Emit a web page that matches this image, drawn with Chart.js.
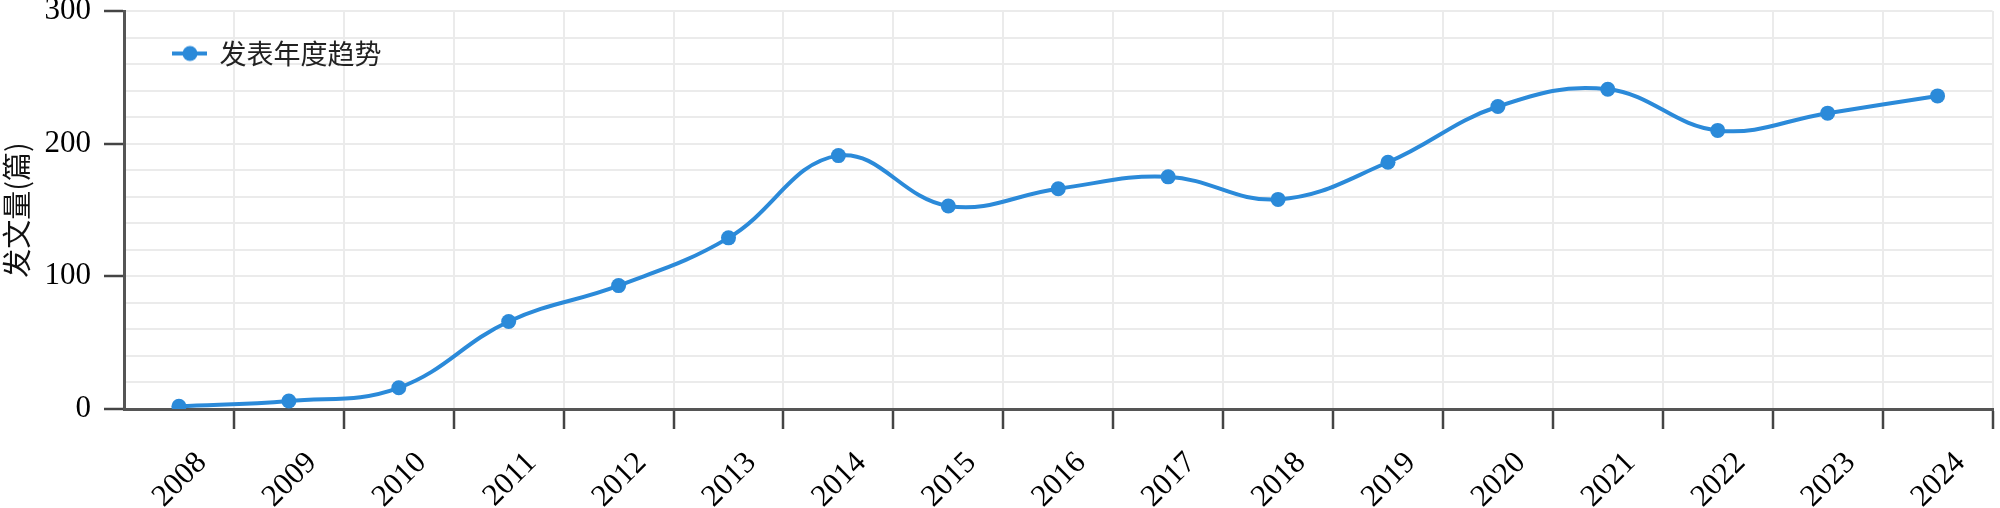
<!DOCTYPE html>
<html lang="zh">
<head>
    <meta charset="UTF-8">
    <title>发表年度趋势</title>
    <script src="https://cdn.jsdelivr.net/npm/chart.js"></script>
    <style>
        body, html {
            margin: 0;
            padding: 0;
            background: #ffffff;
        }
        #wrap {
            width: 2000px;
            height: 508px;
        }
    </style>
</head>
<body>
    <div id="wrap"><canvas id="chart"></canvas></div>

    <script>
        // Data
        const years = ['2008', '2009', '2010', '2011', '2012', '2013', '2014', '2015', '2016',
                       '2017', '2018', '2019', '2020', '2021', '2022', '2023', '2024'];
        const counts = [2, 6, 16, 66, 93, 129, 191, 153, 166, 175, 158, 186, 228, 241, 210, 223, 236];
        const seriesName = '发表年度趋势';
        const yTitle = '发文量(篇)';

        const lineColor = '#2b8ad9';
        const gridColor = '#ebebeb';
        const axisColor = '#555555';
        const serif = '"Liberation Serif", "Times New Roman", serif';
        const cjk = '"Noto Sans CJK SC", "Noto Sans", sans-serif';

        // legend symbol: short line with a dot in the middle
        const legendIcon = document.createElement('canvas');
        legendIcon.width = 44;
        legendIcon.height = 18;
        const ic = legendIcon.getContext('2d');
        ic.strokeStyle = lineColor;
        ic.lineWidth = 4;
        ic.beginPath();
        ic.moveTo(9, 9);
        ic.lineTo(44, 9);
        ic.stroke();
        ic.fillStyle = lineColor;
        ic.beginPath();
        ic.arc(27, 9, 7.5, 0, Math.PI * 2);
        ic.fill();

        new Chart(document.getElementById('chart'), {
            type: 'line',
            data: {
                labels: years,
                datasets: [{
                    label: seriesName,
                    data: counts,
                    borderColor: lineColor,
                    backgroundColor: lineColor,
                    borderWidth: 4,
                    tension: 0.4,
                    pointRadius: 7.5,
                    pointHoverRadius: 7.5,
                    pointBackgroundColor: lineColor,
                    pointBorderWidth: 0,
                    fill: false
                }]
            },
            options: {
                responsive: true,
                maintainAspectRatio: false,
                animation: false,
                layout: {
                    padding: { top: 11, right: 7, left: 0, bottom: 0 }
                },
                plugins: {
                    tooltip: { enabled: false },
                    legend: {
                        position: 'chartArea',
                        align: 'start',
                        labels: {
                            usePointStyle: true,
                            pointStyle: legendIcon,
                            pointStyleWidth: 42,
                            padding: 40,
                            color: '#222222',
                            font: { family: cjk, size: 27 }
                        }
                    }
                },
                scales: {
                    x: {
                        offset: true,
                        grid: {
                            offset: true,
                            color: gridColor,
                            lineWidth: 2,
                            tickLength: 20,
                            tickWidth: 2.5,
                            tickColor: ctx => ctx.index === 0 ? 'rgba(0,0,0,0)' : '#444444'
                        },
                        border: { color: axisColor, width: 3 },
                        ticks: {
                            autoSkip: false,
                            minRotation: 45,
                            maxRotation: 45,
                            labelOffset: 23,
                            padding: 16,
                            color: '#000000',
                            font: { family: serif, size: 31 }
                        },
                        afterFit: scale => {
                            scale.height = 99;
                            scale.paddingLeft = 0;
                            scale.paddingRight = 0;
                        }
                    },
                    y: {
                        min: 0,
                        max: 300,
                        grid: {
                            color: gridColor,
                            lineWidth: 2,
                            tickLength: 20,
                            tickWidth: 2.5,
                            tickColor: ctx => ctx.tick && ctx.tick.value % 100 === 0 ? '#444444' : 'rgba(0,0,0,0)'
                        },
                        border: { color: axisColor, width: 3 },
                        ticks: {
                            autoSkip: false,
                            stepSize: 20,
                            padding: 13,
                            color: '#000000',
                            font: { family: serif, size: 31 },
                            callback: v => v % 100 === 0 ? v : ''
                        },
                        title: {
                            display: true,
                            text: yTitle,
                            color: '#111111',
                            padding: 0,
                            font: { family: cjk, size: 29 }
                        },
                        afterFit: scale => {
                            scale.width = 124;
                            scale.paddingTop = 0;
                            scale.paddingBottom = 0;
                        }
                    }
                }
            }
        });
    </script>
</body>
</html>
